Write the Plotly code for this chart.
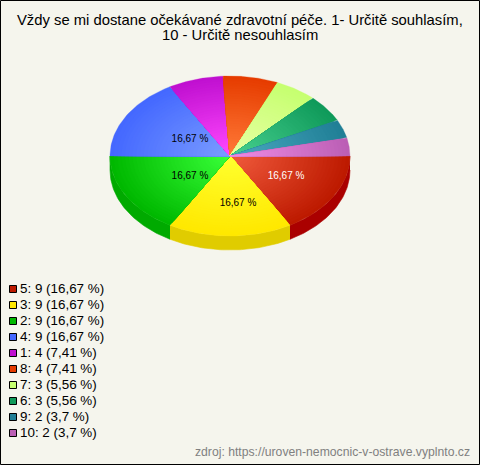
import numpy as np
import plotly.graph_objects as go

categories = ["5", "3", "2", "4", "1", "8", "7", "6", "9", "10"]
counts = [9, 9, 9, 9, 4, 4, 3, 3, 2, 2]
percent_labels = ["16,67", "16,67", "16,67", "16,67", "7,41", "7,41", "5,56", "5,56", "3,7", "3,7"]
rim_colors = ["#bd1a00", "#ffe800", "#00b800", "#4468ff", "#c010d0", "#e63c00", "#c6ff70", "#0f9a5a", "#207f96", "#bb5fb5"]
center_colors = ["#f05a3c", "#ffff2e", "#38ff38", "#7a9cff", "#ff48ff", "#ff7a38", "#e8ffa5", "#48d090", "#4aa8c0", "#f08ce4"]
side_colors = ["#aa0000", "#e0cc00", "#00aa00"]
legend_colors = ["#bd1a00", "#ffe800", "#00b800", "#4468ff", "#c010d0", "#e63c00", "#c6ff70", "#0f9a5a", "#207f96", "#bb5fb5"]

title_lines = ["Vždy se mi dostane očekávané zdravotní péče. 1- Určitě souhlasím,", "10 - Určitě nesouhlasím"]
source = "zdroj: https://uroven-nemocnic-v-ostrave.vyplnto.cz"

CX, CY, RX, RY, DEPTH = 230, 156, 120, 80, 14
RINGS = 32
BG = "#f5f5ed"
FONT = "Liberation Sans, Arial, sans-serif"


def mix(a, b, t):
    ca = [int(a[i:i + 2], 16) for i in (1, 3, 5)]
    cb = [int(b[i:i + 2], 16) for i in (1, 3, 5)]
    return "rgb(%d,%d,%d)" % tuple(round(x + (y - x) * t) for x, y in zip(ca, cb))


total = sum(counts)
edges = np.concatenate([[0], np.cumsum(counts)]) / total * 2 * np.pi
fig = go.Figure()


def add_poly(xs, ys, color, width=0.6):
    fig.add_trace(go.Scatter(x=xs, y=ys, mode="lines", fill="toself", fillcolor=color,
                             line=dict(color=color, width=width), hoverinfo="skip", showlegend=False))


# side wall of the front half
for i in range(len(counts)):
    a0, a1 = edges[i], min(edges[i + 1], np.pi)
    if a0 >= np.pi:
        continue
    t = np.linspace(a0, a1, 60)
    xs = CX + RX * np.cos(t)
    ys = CY + RY * np.sin(t)
    add_poly(np.concatenate([xs, xs[::-1]]), np.concatenate([ys, ys[::-1] + DEPTH]), side_colors[i])

# top face, radial shading built from nested wedges
for i in range(len(counts)):
    t = np.linspace(edges[i], edges[i + 1], 50)
    for k in range(RINGS):
        s = 1 - k / RINGS
        xs = np.concatenate([[CX], CX + s * RX * np.cos(t), [CX]])
        ys = np.concatenate([[CY], CY + s * RY * np.sin(t), [CY]])
        add_poly(xs, ys, mix(rim_colors[i], center_colors[i], k / (RINGS - 1)), 0.3)

# percentage labels on the large slices
for i, c in enumerate(counts):
    if c / total < 0.1:
        continue
    m = (edges[i] + edges[i + 1]) / 2
    sn = np.sin(m)
    fig.add_trace(go.Scatter(
        x=[CX + 8 + 55.5 * np.cos(m)], y=[CY - 1.3 + 37 * sn + 11.3 * sn * sn],
        mode="text", text=[percent_labels[i] + " %"], textposition="middle center",
        textfont=dict(family=FONT, size=10, color="#ffffff" if i == 0 else "#000000"),
        hoverinfo="skip", showlegend=False))

# legend rows
rows = list(range(len(categories)))
fig.add_trace(go.Scatter(
    x=[13] * len(rows), y=[289 + 16 * r for r in rows], mode="markers",
    marker=dict(symbol="square", size=7, color=legend_colors, line=dict(color="#000000", width=1)),
    hoverinfo="skip", showlegend=False))
fig.add_trace(go.Scatter(
    x=[20] * len(rows), y=[289.5 + 16 * r for r in rows], mode="text",
    text=[f"{c}: {n} ({p} %)" for c, n, p in zip(categories, counts, percent_labels)],
    textposition="middle right",
    textfont=dict(family=FONT, size=13.4, color="#000000"), hoverinfo="skip", showlegend=False))

for line, y in zip(title_lines, [20, 35]):
    fig.add_annotation(x=239.5, y=y, text=line, showarrow=False, xref="x", yref="y",
                       font=dict(family=FONT, size=14.8, color="#000000"), align="center")
fig.add_annotation(x=472, y=452, text=source, showarrow=False, xref="x", yref="y", xanchor="right",
                   font=dict(family=FONT, size=12.2, color="#808080"))

fig.add_shape(type="rect", x0=0.5, y0=0.5, x1=479.5, y1=464.5, line=dict(color="#000000", width=1),
              fillcolor="rgba(0,0,0,0)", layer="above")

fig.update_layout(width=480, height=465, margin=dict(l=0, r=0, t=0, b=0), paper_bgcolor=BG, plot_bgcolor=BG,
                  showlegend=False,
                  xaxis=dict(range=[0, 480], visible=False, fixedrange=True),
                  yaxis=dict(range=[465, 0], visible=False, fixedrange=True))

fig.write_html("out.html", config={"displayModeBar": False, "responsive": False},
               post_script="document.body.style.margin='0';")
